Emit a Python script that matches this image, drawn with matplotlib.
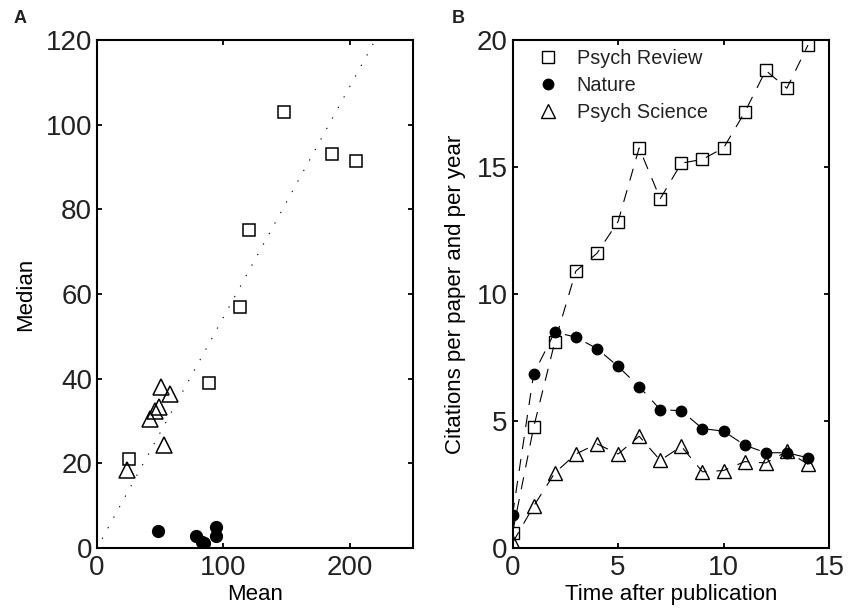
import numpy as np
import matplotlib
matplotlib.use("Agg")
import matplotlib.pyplot as plt

# panel A: mean vs median citations per journal-year
pr_mean = [148, 186, 205, 120, 113, 89, 25]
pr_median = [103, 93, 91.5, 75, 57, 39, 21]
ps_mean = [23.5, 50.5, 58, 49, 46, 42, 53]
ps_median = [18.4, 38.1, 36.3, 33.4, 32.4, 30.4, 24.3]
nat_mean = [48.5, 78.5, 83, 85, 94, 94]
nat_median = [3.9, 2.8, 1.5, 1.2, 4.9, 2.8]
fit_slope = 0.545
fit_x = [4, 220]

# panel B: citations per paper per year vs time after publication
years = np.arange(15)
psych_review = [0.6, 4.75, 8.1, 10.9, 11.6, 12.85, 15.75, 13.75, 15.15, 15.3,
                15.75, 17.15, 18.8, 18.1, 19.8]
nature = [1.3, 6.85, 8.5, 8.3, 7.85, 7.15, 6.35, 5.45, 5.4, 4.7,
          4.6, 4.05, 3.75, 3.75, 3.55]
psych_science = [0.2, 1.65, 2.95, 3.7, 4.1, 3.7, 4.4, 3.45, 4.0, 3.0,
                 3.05, 3.4, 3.35, 3.8, 3.3]

plt.rcParams['font.family'] = ['Liberation Sans', 'DejaVu Sans']
plt.rcParams['text.color'] = '#222222'
plt.rcParams['xtick.color'] = 'black'
plt.rcParams['ytick.color'] = 'black'
plt.rcParams['xtick.labelcolor'] = '#222222'
plt.rcParams['ytick.labelcolor'] = '#222222'

fig = plt.figure(figsize=(8.48, 6.14), dpi=100)
axA = fig.add_axes([0.1144, 0.1075, 0.3726, 0.8274])
axB = fig.add_axes([0.6044, 0.1075, 0.3733, 0.8274])


def style_axes(ax):
    for s in ax.spines.values():
        s.set_linewidth(1.5)
    ax.tick_params(direction='in', top=True, right=True, length=3.5, width=1.3,
                   labelsize=20)
    ax.tick_params(axis='x', pad=5)
    ax.tick_params(axis='y', pad=3.5)


# --- A ---
fx = np.array(fit_x)
axA.plot(fx, fit_slope * fx, color='black', lw=0.75, linestyle=(0, (1.3, 10.2)))
axA.plot(pr_mean, pr_median, 's', ms=8.5, mfc='none', mec='black', mew=1.1)
axA.plot(nat_mean, nat_median, 'o', ms=8.5, color='black')
axA.plot(ps_mean, ps_median, '^', ms=12, mfc='none', mec='black', mew=1.1)
axA.set_xlim(0, 250)
axA.set_ylim(0, 120)
axA.set_xticks([0, 100, 200])
axA.set_yticks([0, 20, 40, 60, 80, 100, 120])
axA.set_xlabel('Mean', fontsize=16, labelpad=2)
axA.set_ylabel('Median', fontsize=16, labelpad=7)
style_axes(axA)

# --- B ---
dash = (0, (11, 9))
axB.plot(years, psych_review, color='black', lw=0.8, linestyle=dash)
axB.plot(years, nature, color='black', lw=0.8, linestyle=dash)
axB.plot(years, psych_science, color='black', lw=0.8, linestyle=dash)
axB.plot(years, psych_review, 's', ms=8, mfc='none', mec='black', mew=1.0,
         label='Psych Review')
axB.plot(years, nature, 'o', ms=7.5, color='black', label='Nature')
axB.plot(years, psych_science, '^', ms=10, mfc='none', mec='black', mew=1.0,
         label='Psych Science')
axB.set_xlim(0, 15)
axB.set_ylim(0, 20)
axB.set_xticks([0, 5, 10, 15])
axB.set_yticks([0, 5, 10, 15, 20])
axB.set_xlabel('Time after publication', fontsize=16, labelpad=2)
axB.set_ylabel('Citations per paper and per year', fontsize=16, labelpad=8)
style_axes(axB)
axB.legend(loc='upper left', bbox_to_anchor=(0.0806, 0.982), frameon=False,
           fontsize=14.3, handlelength=1.0, handletextpad=0.95, borderpad=0,
           borderaxespad=0, labelspacing=0.4, numpoints=1)

fig.text(0.016, 0.970, 'A', fontsize=13, fontweight='bold', va='center')
fig.text(0.533, 0.970, 'B', fontsize=13, fontweight='bold', va='center')

fig.savefig('out.png', dpi=100)
